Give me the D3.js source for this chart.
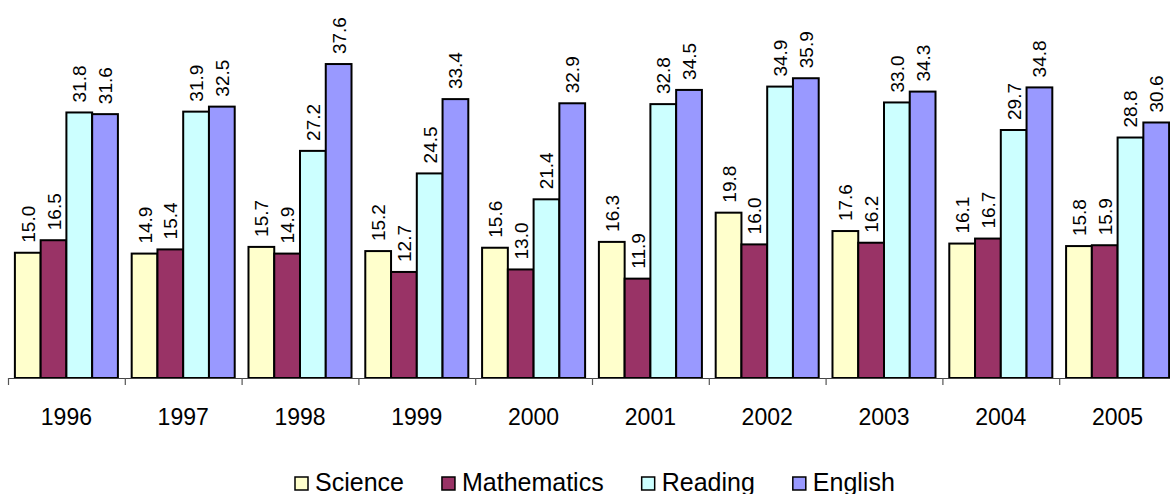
<!DOCTYPE html>
<html>
<head>
<meta charset="utf-8">
<script src="https://cdn.jsdelivr.net/npm/d3@7"></script>
<style>
  body { margin: 0; background: #fff; }
  text { font-family: Arial, "Liberation Sans", sans-serif; fill: #000; }
</style>
</head>
<body>
<div id="chart"></div>
<script>
const width = 1170, height = 494;

// data
const years = ["1996", "1997", "1998", "1999", "2000", "2001", "2002", "2003", "2004", "2005"];
const seriesNames = ["Science", "Mathematics", "Reading", "English"];
const science = [15.0, 14.9, 15.7, 15.2, 15.6, 16.3, 19.8, 17.6, 16.1, 15.8];
const mathematics = [16.5, 15.4, 14.9, 12.7, 13.0, 11.9, 16.0, 16.2, 16.7, 15.9];
const reading = [31.8, 31.9, 27.2, 24.5, 21.4, 32.8, 34.9, 33.0, 29.7, 28.8];
const english = [31.6, 32.5, 37.6, 33.4, 32.9, 34.5, 35.9, 34.3, 34.8, 30.6];
const seriesColors = ["#FFFFCC", "#993366", "#CCFFFF", "#9999FF"];

const allSeries = [science, mathematics, reading, english];
const rows = years.map((y, i) => ({
  year: y,
  vals: seriesNames.map((s, j) => ({ key: s, value: allSeries[j][i], color: seriesColors[j] }))
}));

var svg = d3.select("#chart")
  .append("svg")
  .attr("width", width)
  .attr("height", height);

const baseY = 378;

// scales
const x = d3.scaleBand()
  .domain(years)
  .range([8, 8 + 10 * 116.8])
  .paddingInner(0.118)
  .paddingOuter(0.059);

const xInner = d3.scaleBand()
  .domain(seriesNames)
  .range([0, x.bandwidth()]);

const y = d3.scaleLinear()
  .domain([0, 45])
  .range([baseY, baseY - 45 * 8.35]);

// bars
const groups = svg.append("g")
  .selectAll("g")
  .data(rows)
  .enter().append("g")
  .attr("transform", d => `translate(${x(d.year)},0)`);

groups.selectAll("rect")
  .data(d => d.vals)
  .enter().append("rect")
  .attr("x", d => xInner(d.key))
  .attr("y", d => y(d.value))
  .attr("width", xInner.bandwidth())
  .attr("height", d => baseY - y(d.value))
  .attr("fill", d => d.color)
  .attr("stroke", "#000")
  .attr("stroke-width", 2);

groups.selectAll("text")
  .data(d => d.vals)
  .enter().append("text")
  .attr("transform", d => `translate(${xInner(d.key) + xInner.bandwidth() / 2 + 7},${y(d.value) - 10}) rotate(-90)`)
  .style("font-size", "19px")
  .text(d => d.value.toFixed(1));

// axis line + ticks at group boundaries
const step = x.step();
const ax = svg.append("g");
ax.append("line")
  .attr("x1", x.range()[0]).attr("x2", x.range()[1])
  .attr("y1", baseY + 0.5).attr("y2", baseY + 0.5)
  .attr("stroke", "#444").attr("stroke-width", 1.2);

ax.selectAll(".tick")
  .data(d3.range(years.length + 1))
  .enter().append("line")
  .attr("class", "tick")
  .attr("x1", i => x.range()[0] + i * step + 0.5)
  .attr("x2", i => x.range()[0] + i * step + 0.5)
  .attr("y1", baseY).attr("y2", baseY + 7)
  .attr("stroke", "#555").attr("stroke-width", 1.2);

ax.selectAll(".year")
  .data(years)
  .enter().append("text")
  .attr("class", "year")
  .attr("x", d => x(d) + x.bandwidth() / 2)
  .attr("y", 425)
  .attr("text-anchor", "middle")
  .style("font-size", "23px")
  .text(d => d);

// legend
const legend = svg.append("g");
let lx = 295;
seriesNames.forEach((s, i) => {
  const item = legend.append("g");
  item.append("rect")
    .attr("x", lx).attr("y", 477)
    .attr("width", 13).attr("height", 13)
    .attr("fill", seriesColors[i])
    .attr("stroke", "#000").attr("stroke-width", 1.5);
  const t = item.append("text")
    .attr("x", lx + 20).attr("y", 491)
    .style("font-size", "25px")
    .text(s);
  lx += 20 + t.node().getComputedTextLength() + 38;
});
</script>
</body>
</html>
